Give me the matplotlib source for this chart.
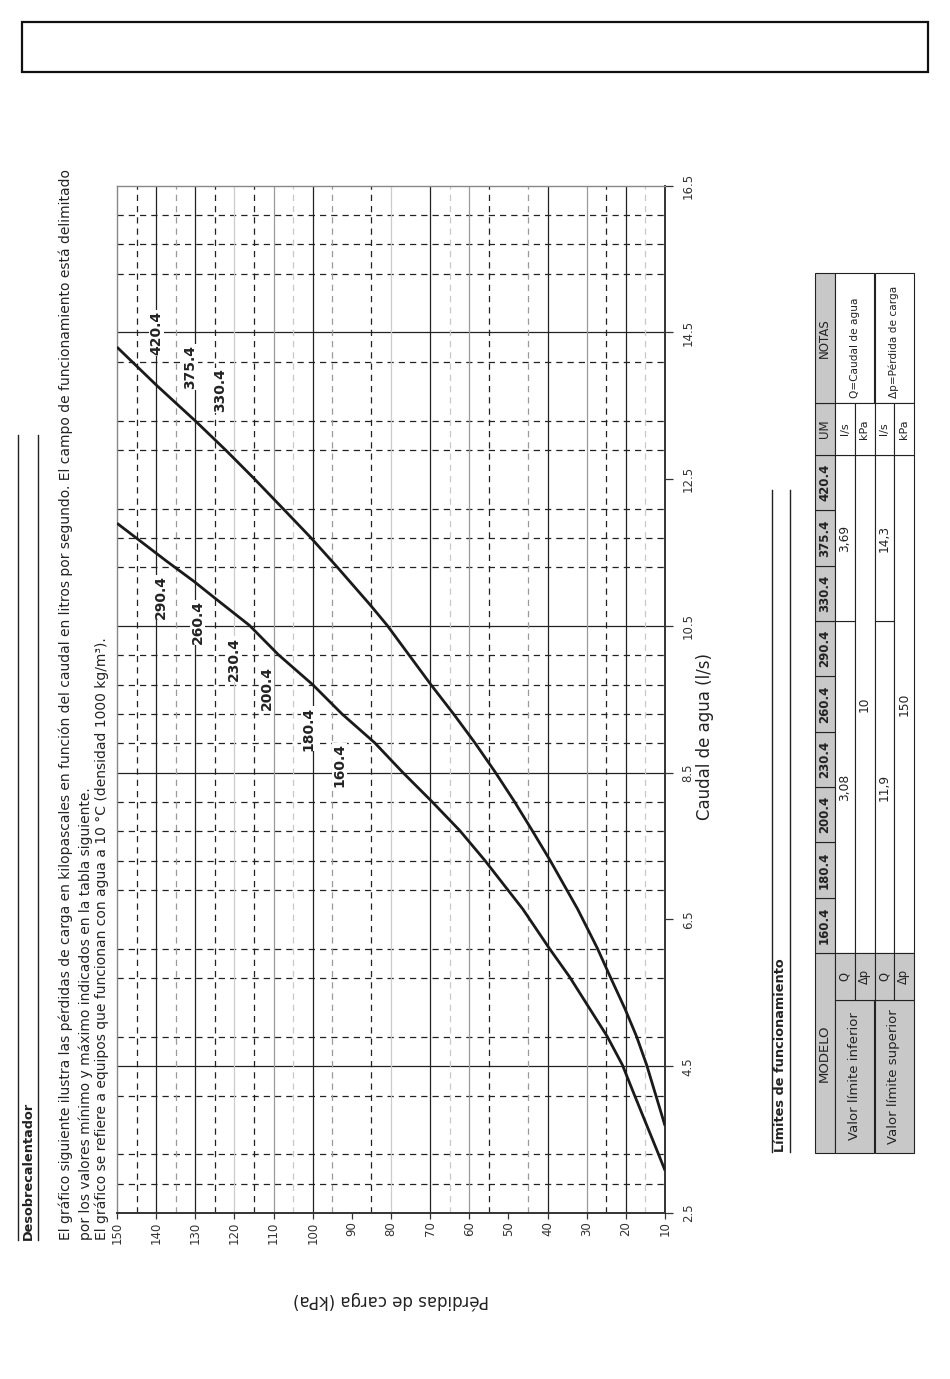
"""Desobrecalentador: pérdidas de carga vs caudal (página girada 90°)."""
import matplotlib
matplotlib.use("Agg")
import matplotlib.pyplot as plt
from matplotlib.patches import Rectangle
from matplotlib.lines import Line2D

plt.rcParams["font.family"] = ["DejaVu Sans"]

W, H = 950, 1379

# --- chart data ---------------------------------------------------------
# curve of models 160.4 ... 290.4
Q_SMALL = [3.08, 3.32, 4.12, 4.52, 4.91, 5.72, 6.11, 6.64, 7.31, 7.71, 8.11,
           8.51, 8.91, 9.30, 9.70, 10.11, 10.51, 10.88, 11.11, 11.39, 11.9]
DP_SMALL = [10, 11.8, 17.9, 20.9, 24.8, 34.4, 39.6, 46.3, 56.1, 62.4, 69.6,
            77.1, 84.2, 92.5, 100.0, 108.8, 116.2, 125.0, 130.4, 137.5, 150]
# curve of models 330.4 ... 420.4
Q_BIG = [3.69, 4.52, 4.91, 5.28, 5.72, 6.11, 6.64, 7.31, 7.71, 8.11, 8.51,
         8.91, 9.30, 9.70, 10.51, 10.78, 11.30, 11.71, 12.10, 12.51, 12.89,
         13.29, 13.78, 14.3]
DP_BIG = [10, 14.7, 17.3, 20.2, 24.0, 27.3, 32.3, 39.4, 43.9, 48.5, 53.4,
          58.6, 64.0, 69.8, 81.0, 85.2, 93.7, 100.6, 107.6, 115.0, 122.1,
          129.9, 139.9, 150]

LABELS_SMALL = ["290.4", "260.4", "230.4", "200.4", "180.4", "160.4"]
LAB_SMALL_DP = [138.7, 129.4, 120.1, 111.8, 101.0, 93.2]
LAB_SMALL_Q = [10.89, 10.55, 10.05, 9.65, 9.10, 8.60]
LABELS_BIG = ["420.4", "375.4", "330.4"]
LAB_BIG_DP = [139.9, 131.3, 123.7]
LAB_BIG_Q = [14.49, 14.03, 13.71]

DP_TICKS = list(range(150, 9, -10))
Q_TICKS = [2.5, 4.5, 6.5, 8.5, 10.5, 12.5, 14.5, 16.5]

FLOW_SOLID = [4.5, 8.5, 10.5, 14.5]
FLOW_DASHED = [2.9, 3.3, 4.1, 4.9, 5.7, 6.1, 6.9, 7.3, 7.7, 8.1, 8.9, 9.3,
               9.7, 10.1, 11.3, 11.7, 12.1, 12.9, 13.3, 14.1, 15.3, 15.7, 16.1]
DP_SOLID_BLACK = [140, 130, 100, 70, 40, 20]
DP_SOLID_GRAY = [110, 60, 30]
DP_SOLID_LIGHT = [120, 80]
DP_DASH_BLACK = [145, 125, 115, 85, 55, 25]
DP_DASH_GRAY = [135, 95, 45]
DP_DASH_LIGHT = [105, 65, 15]

# --- table data ---------------------------------------------------------
MODELS = ["160.4", "180.4", "200.4", "230.4", "260.4", "290.4",
          "330.4", "375.4", "420.4"]
GROUP_SPLIT = 6
LOW_Q = ["3,08", "3,69"]
LOW_DP = "10"
HIGH_Q = ["11,9", "14,3"]
HIGH_DP = "150"
UNITS = ["l/s", "kPa", "l/s", "kPa"]
ROW_NAMES = ["Valor límite inferior", "Valor límite superior"]
SUB_NAMES = ["Q", "Δp", "Q", "Δp"]
NOTES = ["Q=Caudal de agua", "Δp=Pérdida de carga"]

INTRO = [
    "El gráfico siguiente ilustra las pérdidas de carga en kilopascales en "
    "función del caudal en litros por segundo. El campo de funcionamiento "
    "está delimitado",
    "por los valores mínimo y máximo indicados en la tabla siguiente.",
    "El gráfico se refiere a equipos que funcionan con agua a 10 °C "
    "(densidad 1000 kg/m³).",
]


def fx(x):
    return x / W


def fy(y):
    return 1 - y / H


fig = plt.figure(figsize=(W / 100, H / 100), dpi=100)

# top frame box
fig.patches.append(Rectangle((fx(22), fy(72)), fx(928) - fx(22), fy(22) - fy(72),
                             transform=fig.transFigure, fill=False,
                             ec="#111111", lw=1.6))

# heading + paragraph
for xx in (18, 38):
    fig.lines.append(Line2D([fx(xx), fx(xx)], [fy(435), fy(1240)],
                            transform=fig.transFigure, color="#222", lw=1.0))
fig.text(fx(28), fy(1240), "Desobrecalentador", rotation=90,
         rotation_mode="anchor", ha="left", va="center",
         fontsize=9.3, fontweight="bold", color="#222")
for xx, line in zip([65.5, 85.5, 101.5], INTRO):
    fig.text(fx(xx), fy(1240), line, rotation=90, rotation_mode="anchor",
             ha="left", va="center", fontsize=10, color="#222")

# --- chart --------------------------------------------------------------
ax = fig.add_axes([fx(117), fy(1213), fx(665) - fx(117), fy(185.7) - fy(1213)])
ax.set_xlim(150, 10)
ax.set_ylim(2.5, 16.5)

dash = (0, (5, 4))
for q in FLOW_SOLID:
    ax.axhline(q, color="#222", lw=0.9, zorder=1)
for q in FLOW_DASHED:
    ax.axhline(q, color="#222", lw=0.9, ls=dash, zorder=1)
for p in DP_SOLID_BLACK:
    ax.axvline(p, color="#222", lw=0.9, zorder=1)
for p in DP_SOLID_GRAY:
    ax.axvline(p, color="#9a9a9a", lw=0.9, zorder=1)
for p in DP_SOLID_LIGHT:
    ax.axvline(p, color="#cccccc", lw=0.9, zorder=1)
for p in DP_DASH_BLACK:
    ax.axvline(p, color="#222", lw=0.9, ls=dash, zorder=1)
for p in DP_DASH_GRAY:
    ax.axvline(p, color="#9a9a9a", lw=0.9, ls=dash, zorder=1)
for p in DP_DASH_LIGHT:
    ax.axvline(p, color="#c8c8c8", lw=0.9, ls=dash, zorder=1)

ax.plot(DP_SMALL, Q_SMALL, color="#1a1a1a", lw=2.0, zorder=3,
        solid_capstyle="butt")
ax.plot(DP_BIG, Q_BIG, color="#1a1a1a", lw=2.0, zorder=3,
        solid_capstyle="butt")

for lab, p, q in list(zip(LABELS_SMALL, LAB_SMALL_DP, LAB_SMALL_Q)) + \
        list(zip(LABELS_BIG, LAB_BIG_DP, LAB_BIG_Q)):
    ax.text(p, q, lab, rotation=90, ha="center", va="center", fontsize=10,
            fontweight="bold", color="#222", zorder=4,
            bbox=dict(fc="white", ec="none", pad=0.5))

for side in ("top", "left"):
    ax.spines[side].set_color("#888888")
    ax.spines[side].set_linewidth(1.0)
for side in ("bottom", "right"):
    ax.spines[side].set_color("#333333")
    ax.spines[side].set_linewidth(1.4)

ax.set_xticks(DP_TICKS)
ax.set_xticklabels([str(v) for v in DP_TICKS], rotation=90, va="top",
                   fontsize=8.5, color="#333")
ax.set_yticks(Q_TICKS)
ax.yaxis.tick_right()
ax.set_yticklabels([f"{v:.1f}" for v in Q_TICKS], rotation=90, va="center",
                   fontsize=8.5, color="#333")
ax.tick_params(axis="x", direction="out", length=4, width=0.9, pad=2,
               color="#333")
ax.tick_params(axis="y", direction="out", length=6, width=0.9, pad=6,
               color="#333")

fig.text(fx(705), fy(736), "Caudal de agua (l/s)", rotation=90,
         ha="center", va="center", fontsize=12, color="#222")
fig.text(fx(391), fy(1300), "Pérdidas de carga (kPa)", rotation=180,
         ha="center", va="center", fontsize=12, color="#222")

# --- table "Límites de funcionamiento" ----------------------------------
for xx in (772, 790):
    fig.lines.append(Line2D([fx(xx), fx(xx)], [fy(490), fy(1152)],
                            transform=fig.transFigure, color="#222", lw=1.0))
fig.text(fx(781), fy(1152), "Límites de funcionamiento", rotation=90,
         rotation_mode="anchor", ha="left", va="center",
         fontsize=9.3, fontweight="bold", color="#222")

ROW_X = [814.5, 834.5, 854.5, 874.5, 894, 913.5]
NOTE_Y = (273, 403)
UM_Y = (403, 455)
MODEL_TOP, MODEL_BOT = 455, 953
SUB_Y = (953, 1000)
NAME_Y = (1000, 1153)
col_w = (MODEL_BOT - MODEL_TOP) / len(MODELS)
GRAY = "#c8c8c8"


def cell(x0, x1, y0, y1, text="", fill="white", bold=False, size=8.5,
         left=False):
    fig.patches.append(Rectangle((fx(x0), fy(y1)), fx(x1) - fx(x0),
                                 fy(y0) - fy(y1), transform=fig.transFigure,
                                 fc=fill, ec="#222", lw=0.8))
    if not text:
        return
    cx = (x0 + x1) / 2
    if left:
        fig.text(fx(cx), fy(y1 - 5), text, rotation=90, rotation_mode="anchor",
                 ha="left", va="center", fontsize=size, color="#222")
    else:
        fig.text(fx(cx), fy((y0 + y1) / 2), text, rotation=90,
                 rotation_mode="anchor", ha="center", va="center",
                 fontsize=size, color="#222",
                 fontweight="bold" if bold else "normal")


def model_span(i0, i1):
    # models i0..i1-1, 160.4 at the bottom of the page
    return MODEL_BOT - i1 * col_w, MODEL_BOT - i0 * col_w


# header row
cell(ROW_X[0], ROW_X[1], SUB_Y[0], NAME_Y[1], "MODELO", GRAY, size=9.5)
for i, m in enumerate(MODELS):
    y0, y1 = model_span(i, i + 1)
    cell(ROW_X[0], ROW_X[1], y0, y1, m, GRAY, bold=True, size=8.5)
cell(ROW_X[0], ROW_X[1], UM_Y[0], UM_Y[1], "UM", GRAY, size=8.5)
cell(ROW_X[0], ROW_X[1], NOTE_Y[0], NOTE_Y[1], "NOTAS", GRAY, size=8.5)

# body
q_rows = [LOW_Q, HIGH_Q]
dp_rows = [LOW_DP, HIGH_DP]
for g in range(2):
    r = 1 + 2 * g
    cell(ROW_X[r], ROW_X[r + 2], NAME_Y[0], NAME_Y[1], ROW_NAMES[g], GRAY,
         size=9.5)
    cell(ROW_X[r], ROW_X[r + 2], NOTE_Y[0], NOTE_Y[1], NOTES[g], left=True,
         size=7.6)
    a0, a1 = model_span(0, GROUP_SPLIT)
    b0, b1 = model_span(GROUP_SPLIT, len(MODELS))
    cell(ROW_X[r], ROW_X[r + 1], a0, a1, q_rows[g][0], size=8.8)
    cell(ROW_X[r], ROW_X[r + 1], b0, b1, q_rows[g][1], size=8.8)
    c0, c1 = model_span(0, len(MODELS))
    cell(ROW_X[r + 1], ROW_X[r + 2], c0, c1, dp_rows[g], size=8.8)
for k in range(4):
    cell(ROW_X[k + 1], ROW_X[k + 2], SUB_Y[0], SUB_Y[1], SUB_NAMES[k], GRAY,
         size=8.3)
    cell(ROW_X[k + 1], ROW_X[k + 2], UM_Y[0], UM_Y[1], UNITS[k], size=8)

fig.savefig("out.png", dpi=100)
